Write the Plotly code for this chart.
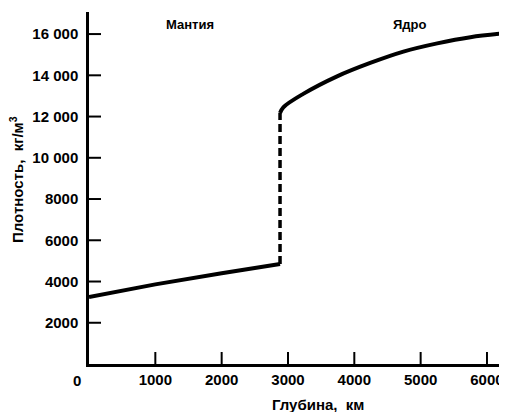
import plotly.graph_objects as go

# Mantle density (depth km, density kg/m3)
mantle_depth = [0, 1000, 2000, 2880]
mantle_density = [3250, 3860, 4400, 4850]

# Boundary jump (dashed)
jump_depth = [2880, 2880]
jump_density = [4850, 12170]

# Core density
core_depth = [2880, 2930, 3230, 3740, 4240, 4740, 5250, 5750, 6310]
core_density = [12170, 12450, 13100, 13950, 14600, 15150, 15550, 15850, 16050]

x_ticks = [1000, 2000, 3000, 4000, 5000, 6000]
x_tick_labels = ["1000", "2000", "3000", "4000", "5000", "6000"]
y_ticks = [2000, 4000, 6000, 8000, 10000, 12000, 14000, 16000]
y_tick_labels = ["2000", "4000", "6000", "8000", "10 000", "12 000", "14 000", "16 000"]

FONT = "Liberation Sans, Arial, sans-serif"

fig = go.Figure()
fig.add_trace(go.Scatter(x=mantle_depth, y=mantle_density, mode="lines",
                         line=dict(color="black", width=4), hoverinfo="skip"))
fig.add_trace(go.Scatter(x=jump_depth, y=jump_density, mode="lines",
                         line=dict(color="black", width=3.5, dash="8px,4px"), hoverinfo="skip"))
fig.add_trace(go.Scatter(x=core_depth, y=core_density, mode="lines", line_shape="spline",
                         line=dict(color="black", width=4, smoothing=1), hoverinfo="skip"))

# tick marks pointing into the plot (pixel-sized shapes anchored at each tick value)
shapes = []
for t in x_ticks:
    shapes.append(dict(type="line", xref="x", yref="y", x0=t, x1=t,
                       ysizemode="pixel", yanchor=0, y0=0, y1=12,
                       line=dict(color="black", width=2)))
for t in y_ticks:
    shapes.append(dict(type="line", xref="x", yref="y", y0=t, y1=t,
                       xsizemode="pixel", xanchor=0, x0=0, x1=12,
                       line=dict(color="black", width=2)))

# page body has an 8px margin, so the figure is 16px smaller and offset
fig.update_layout(
    width=499, height=404,
    margin=dict(l=81, r=0, t=4, b=48, autoexpand=False),
    paper_bgcolor="white", plot_bgcolor="white",
    showlegend=False,
    shapes=shapes,
    font=dict(family=FONT, color="black"),
    xaxis=dict(range=[0, 6302], showgrid=False, zeroline=False, automargin=False,
               showline=True, linecolor="black", linewidth=2.5,
               ticks="", ticklabelstandoff=0,
               tickmode="array", tickvals=x_ticks, ticktext=x_tick_labels,
               tickfont=dict(family=FONT, size=15, color="black", weight="bold")),
    yaxis=dict(range=[0, 17070], showgrid=False, zeroline=False, automargin=False,
               showline=True, linecolor="black", linewidth=2.5,
               ticks="", ticklabelstandoff=5,
               tickmode="array", tickvals=y_ticks, ticktext=y_tick_labels,
               tickfont=dict(family=FONT, size=15, color="black", weight="bold")),
    annotations=[
        dict(x=0, y=0, xref="x", yref="y", text="<b>0</b>", showarrow=False,
             xshift=-12, yshift=-16, font=dict(family=FONT, size=15, color="black")),
        dict(x=1520, y=16450, xref="x", yref="y", text="<b>Мантия</b>", showarrow=False,
             font=dict(family=FONT, size=13, color="black")),
        dict(x=4840, y=16450, xref="x", yref="y", text="<b>Ядро</b>", showarrow=False,
             font=dict(family=FONT, size=13, color="black")),
        dict(x=0.548, y=-0.116, xref="paper", yref="paper", xanchor="center", yanchor="middle",
             text="<b>Глубина,  км</b>",
             showarrow=False, font=dict(family=FONT, size=15, color="black")),
        dict(x=-0.172, y=0.523, xref="paper", yref="paper", xanchor="center", yanchor="middle",
             text="<b>Плотность,  кг/м<sup>3</sup></b>",
             showarrow=False, textangle=-90, font=dict(family=FONT, size=15, color="black")),
    ],
)

fig.write_html("out.html")
